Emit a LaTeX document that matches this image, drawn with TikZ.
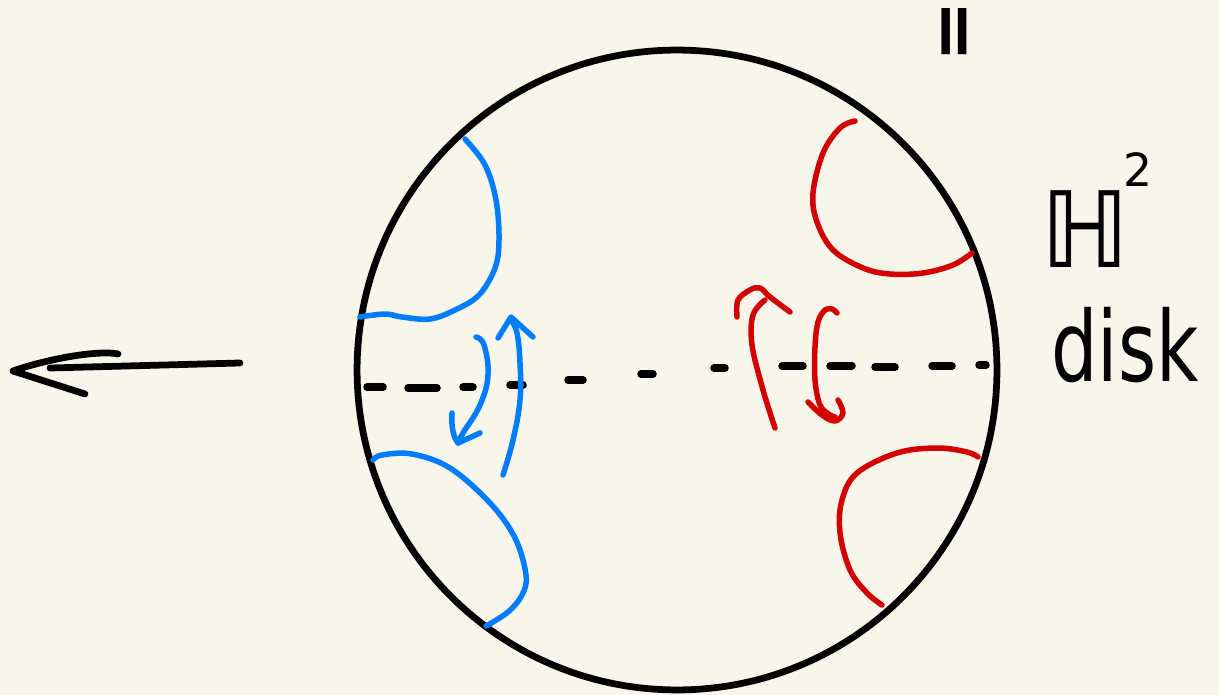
\documentclass[tikz,border=0pt]{standalone}
\usepackage{fontspec}
\newfontfamily\handfont{DejaVu Sans}
\definecolor{paper}{RGB}{248,246,235}
\definecolor{penblue}{RGB}{0,124,255}
\definecolor{penred}{RGB}{210,0,0}
\begin{document}
\begin{tikzpicture}[x=0.02cm,y=-0.02cm,
  ink/.style={line width=0.135cm,line cap=round,line join=round},
  blueink/.style={penblue,line width=0.11cm,line cap=round,line join=round},
  redink/.style={penred,line width=0.11cm,line cap=round,line join=round},
  dashink/.style={line width=0.15cm,line cap=round},
  label/.style={font=\handfont,inner sep=0pt}]
\fill[paper] (0,0) rectangle (1219,695);
\useasboundingbox (0,0) rectangle (1219,695);

% disk boundary
\draw[ink] (677,370) circle[radius=6.4cm];

% dashed diameter
\foreach \a/\b/\y in {367/383/387, 408/437/388, 463/473/387, 510/523/385, 568/583/380,
                      641/653/374, 714/725/368, 782/803/366, 830/852/366, 875/895/367,
                      932/952/366, 979/986/365}
  \draw[dashink] (\a,\y) -- (\b,\y);

% left arrow
\draw[ink] (240,363) -- (50,368);
\draw[ink] (118,354) .. controls (100,350) and (50,358) .. (13,371) -- (85,394);

% blue geodesics
\draw[blueink] plot[smooth,tension=0.6] coordinates {(465,139) (485,165) (496,200) (499,240) (495,268) (479,295) (455,310) (430,319) (402,317) (385,314) (360,317)};
\draw[blueink] plot[smooth,tension=0.6] coordinates {(373,460) (382,455) (412,454) (450,468) (490,503) (515,538) (526,575) (522,595) (508,612) (486,626)};

% blue arrows
\draw[blueink] plot[smooth,tension=0.7] coordinates {(476,337) (484,345) (488,375) (480,405) (463,433) (458,443)};
\draw[blueink] (452,413) .. controls (451,428) and (454,438) .. (458,443) -- (480,433);
\draw[blueink] plot[smooth,tension=0.7] coordinates {(503,475) (513,440) (520,400) (520,363) (517,333) (511,320)};
\draw[blueink] (498,338) -- (511,317) -- (533,337);

% red geodesics
\draw[redink] plot[smooth,tension=0.6] coordinates {(855,121) (840,128) (823,153) (813,193) (817,222) (833,250) (863,268) (890,274) (923,273) (953,265) (972,253)};
\draw[redink] plot[smooth,tension=0.6] coordinates {(978,457) (967,452) (937,448) (897,453) (857,473) (842,500) (840,533) (850,570) (867,593) (882,605)};

% red arrows
\draw[redink] plot[smooth,tension=0.6] coordinates {(775,428) (763,390) (752,345) (753,315) (765,300)};
\draw[redink] plot[smooth,tension=0.6] coordinates {(737,317) (738,300) (750,290) (760,288) (770,297) (790,312)};
\draw[redink] plot[smooth,tension=0.6] coordinates {(837,313) (832,309) (825,310) (818,322) (815,347) (815,380) (820,405) (830,415) (835,417)};
\draw[redink] plot[smooth,tension=0.6] coordinates {(808,402) (822,415) (835,421) (843,413) (838,400)};

% labels
\node[label,rotate=90,font=\handfont\bfseries\fontsize{42}{42}\selectfont] (eq) at (960,32) {=};
\node[label,anchor=base west] (H2) at (1040,268)
  {\fontsize{60}{60}\selectfont ℍ\kern-0.06em\raisebox{0.77em}{\fontsize{26}{26}\selectfont 2}};
\node[label,anchor=base west] (disk) at (1051,381)
  {\resizebox{2.95cm}{!}{\fontsize{55}{55}\selectfont\scalebox{0.75}[1]{disk}}};
\end{tikzpicture}
\end{document}
